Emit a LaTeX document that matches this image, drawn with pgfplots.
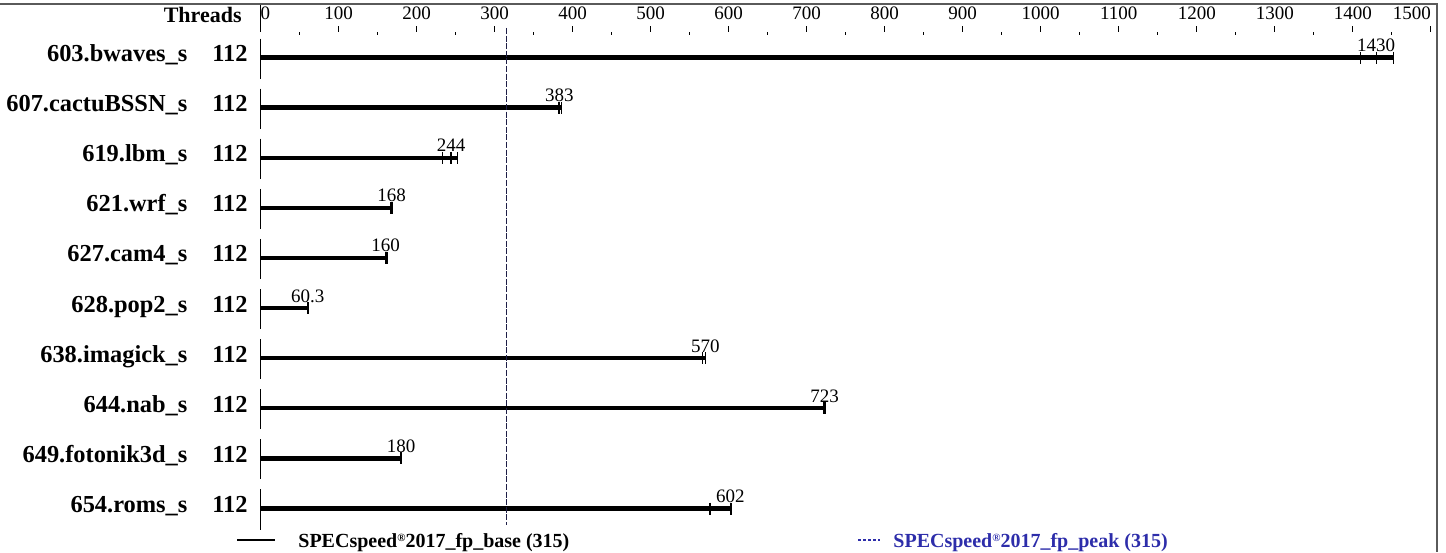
\documentclass[border=0pt]{standalone}
\usepackage{fontspec}
\setmainfont{Liberation Serif}
\usepackage{pgfplots}
\pgfplotsset{compat=1.18}

\definecolor{peakblue}{RGB}{45,45,170}
\definecolor{scoreline}{RGB}{30,30,70}
\definecolor{framegray}{RGB}{90,90,90}
\newcommand{\reg}{\raisebox{0.55ex}{\fontsize{5.5}{6}\selectfont\textregistered}}

\begin{document}
\begin{tikzpicture}
% canvas 1446x552 px, 0.5pt per px
\path[use as bounding box] (0,0) rectangle (723pt,276pt);
\draw[framegray, line width=1pt] (0,274pt) -- (718.5pt,274pt) -- (718.5pt,0);

\begin{axis}[
  at={(130.35pt,11pt)}, anchor=south west,
  scale only axis, width=588.15pt, height=248.75pt,
  xmin=0, xmax=1508, ymin=-0.429, ymax=9.5,
  clip=false,
  axis x line*=top, axis y line*=left,
  axis line style={draw=none},
  xtick={0,100,...,1500},
  minor xtick={50,150,...,1450},
  tick align=outside,
  major tick length=3pt, minor tick length=1.5pt,
  every tick/.style={black, line width=0.5pt},
  minor x tick style={yshift=-1.5pt},
  ytick style={draw=none},
  /pgf/number format/1000 sep={},
  /pgf/number format/assume math mode=true,
  xticklabel={\ifnum\ticknum=0 \makebox[0pt][l]{0}\else\ifnum\ticknum=15 \makebox[0pt][r]{1500}\else\pgfmathprintnumber{\tick}\fi\fi},
  xticklabel style={font=\fontsize{9.5}{10}\selectfont},
  ytick={0,...,9},
  yticklabels={654.roms\_s\hspace{12.5pt}112,
               649.fotonik3d\_s\hspace{12.5pt}112,
               644.nab\_s\hspace{12.5pt}112,
               638.imagick\_s\hspace{12.5pt}112,
               628.pop2\_s\hspace{12.5pt}112,
               627.cam4\_s\hspace{12.5pt}112,
               621.wrf\_s\hspace{12.5pt}112,
               619.lbm\_s\hspace{12.5pt}112,
               607.cactuBSSN\_s\hspace{12.5pt}112,
               603.bwaves\_s\hspace{12.5pt}112},
  yticklabel style={font=\fontsize{12.2}{14}\selectfont\bfseries, anchor=base east, yshift=-2pt, xshift=0pt},
]
% left axis pieces and the zero tick
\addplot[black, line width=0.8pt, unbounded coords=jump] coordinates {
  (0,10.05) (0,9.5) (0,nan)
  (0,9.38) (0,8.58) (0,nan)
  (0,8.38) (0,7.58) (0,nan)
  (0,7.38) (0,6.58) (0,nan)
  (0,6.38) (0,5.58) (0,nan)
  (0,5.38) (0,4.58) (0,nan)
  (0,4.38) (0,3.58) (0,nan)
  (0,3.38) (0,2.58) (0,nan)
  (0,2.38) (0,1.58) (0,nan)
  (0,1.38) (0,0.58) (0,nan)
  (0,0.38) (0,-0.42)
};
% bars (to the largest run)
\addplot[black, line width=2.2pt, unbounded coords=jump] coordinates {
  (0,9) (1452,9) (0,nan)
  (0,8) (386,8) (0,nan)
  (0,7) (252,7) (0,nan)
  (0,6) (168.5,6) (0,nan)
  (0,5) (162,5) (0,nan)
  (0,4) (60.6,4) (0,nan)
  (0,3) (570.5,3) (0,nan)
  (0,2) (724,2) (0,nan)
  (0,1) (180.5,1) (0,nan)
  (0,0) (604,0)
};
% individual runs
\addplot[only marks, mark=|, mark size=3pt, mark options={black, line width=0.6pt}] coordinates {
  (1410,9) (1430,9) (1452,9)
  (382,8) (383,8) (386,8)
  (233,7) (244,7) (252,7)
  (167,6) (168,6) (168.5,6)
  (160,5) (160.3,5) (162,5)
  (59.8,4) (60.3,4) (60.6,4)
  (566,3) (570,3) (570.5,3)
  (722,2) (723,2) (724,2)
  (179,1) (180,1) (180.5,1)
  (576,0) (602,0) (604,0)
};
% medians
\addplot[draw=none, nodes near coords, point meta=explicit symbolic,
  every node near coord/.append style={anchor=base, yshift=3pt, inner sep=0pt, font=\fontsize{9.5}{10}\selectfont}]
  coordinates {
  (1430,9) [1430]
  (383,8) [383]
  (244,7) [244]
  (168,6) [168]
  (160,5) [160]
  (60.3,4) [60.3]
  (570,3) [570]
  (723,2) [723]
  (180,1) [180]
  (602,0) [602]
};
% overall score, base and peak both 315
\addplot[scoreline, line width=0.55pt, dash pattern=on 3pt off 0.8pt] coordinates {(315,9.59) (315,-0.33)};
\end{axis}

\node[anchor=base east, inner sep=0pt, font=\fontsize{11}{12}\selectfont\bfseries] at (121pt,264.75pt) {Threads};

% legend
\draw[black, line width=0.6pt] (118.5pt,6pt) -- (137.5pt,6pt);
\node[anchor=base west, inner sep=0pt, font=\fontsize{10}{12}\selectfont\bfseries] at (149pt,2.5pt) {SPECspeed\reg2017\_fp\_base (315)};
\draw[peakblue, line width=0.6pt, dash pattern=on 1.5pt off 1pt] (429pt,6pt) -- (440pt,6pt);
\node[anchor=base west, inner sep=0pt, text=peakblue, font=\fontsize{10}{12}\selectfont\bfseries] at (446.5pt,2.5pt) {SPECspeed\reg2017\_fp\_peak (315)};
\end{tikzpicture}
\end{document}
